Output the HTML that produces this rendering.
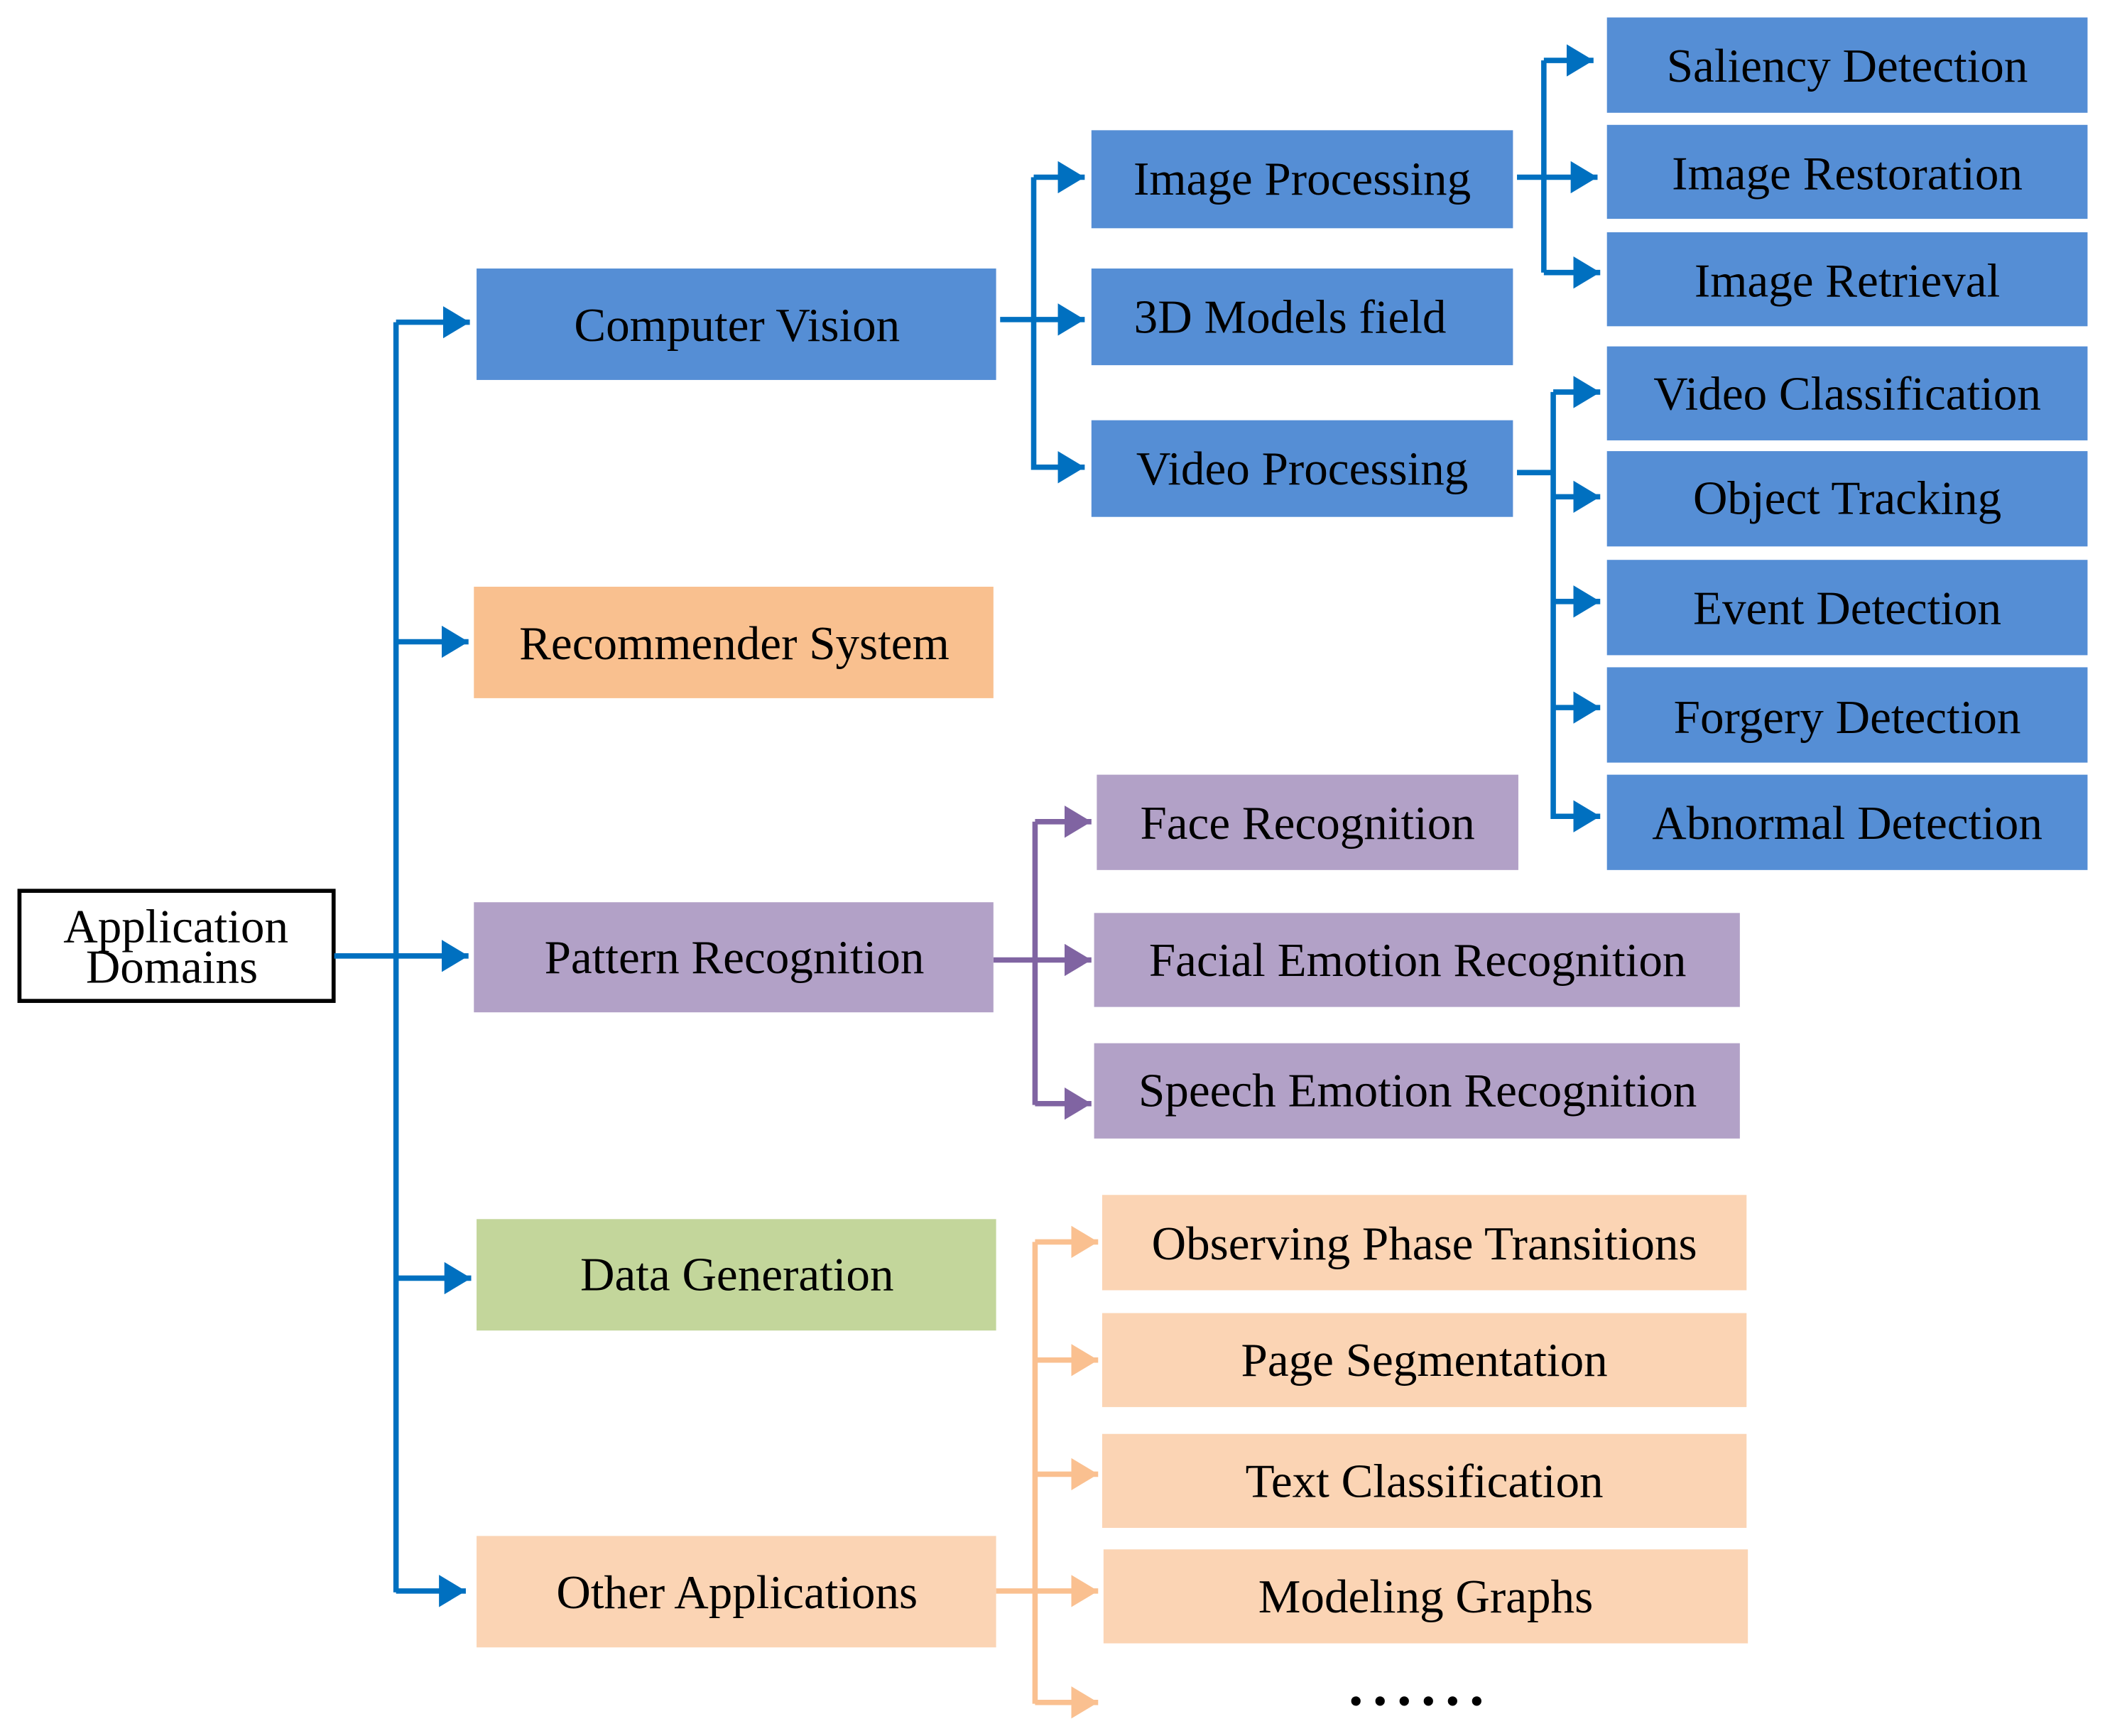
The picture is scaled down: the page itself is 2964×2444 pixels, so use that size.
<!DOCTYPE html>
<html><head><meta charset="utf-8"><style>
html,body{margin:0;padding:0;background:#fff;}
svg{display:block;}
text{font-family:"Liberation Serif",serif;font-size:35.5px;fill:#000;text-anchor:middle;dominant-baseline:central;}
</style></head><body>
<svg width="2964" height="2444" viewBox="0 0 1568 1293" preserveAspectRatio="none" xmlns="http://www.w3.org/2000/svg">
<defs>
<marker id="ab" markerUnits="userSpaceOnUse" markerWidth="20" markerHeight="24" refX="20" refY="12" orient="auto"><path d="M0,0 L20,12 L0,24 Z" fill="#0070c0"/></marker>
<marker id="ap" markerUnits="userSpaceOnUse" markerWidth="20" markerHeight="24" refX="20" refY="12" orient="auto"><path d="M0,0 L20,12 L0,24 Z" fill="#8064a2"/></marker>
<marker id="ao" markerUnits="userSpaceOnUse" markerWidth="20" markerHeight="24" refX="20" refY="12" orient="auto"><path d="M0,0 L20,12 L0,24 Z" fill="#fac090"/></marker>
</defs>
<rect x="14.5" y="663.5" width="234" height="82" fill="#fff" stroke="#000" stroke-width="3"/>
<text x="131" y="690">Application</text>
<text x="128" y="720">Domains</text>

<g stroke="#0070c0" stroke-width="4" fill="none">
<path d="M249,712 H295"/>
<path d="M295,240 V1186"/>
<path d="M295,240 H350" marker-end="url(#ab)"/>
<path d="M295,478 H349" marker-end="url(#ab)"/>
<path d="M295,712 H349" marker-end="url(#ab)"/>
<path d="M295,952 H351" marker-end="url(#ab)"/>
<path d="M295,1185 H347" marker-end="url(#ab)"/>
<path d="M745,238 H770"/>
<path d="M770,132 V350"/>
<path d="M770,132 H808" marker-end="url(#ab)"/>
<path d="M770,238 H808" marker-end="url(#ab)"/>
<path d="M770,348 H808" marker-end="url(#ab)"/>
<path d="M1130,132 H1150"/>
<path d="M1150,45 V203"/>
<path d="M1150,45 H1187" marker-end="url(#ab)"/>
<path d="M1150,132 H1190" marker-end="url(#ab)"/>
<path d="M1150,203 H1192" marker-end="url(#ab)"/>
<path d="M1130,352 H1157"/>
<path d="M1157,292 V610"/>
<path d="M1157,292 H1192" marker-end="url(#ab)"/>
<path d="M1157,370 H1192" marker-end="url(#ab)"/>
<path d="M1157,448 H1192" marker-end="url(#ab)"/>
<path d="M1157,527 H1192" marker-end="url(#ab)"/>
<path d="M1157,608 H1192" marker-end="url(#ab)"/>
</g>
<g stroke="#8064a2" stroke-width="4" fill="none">
<path d="M740,715 H771"/>
<path d="M771,612 V823"/>
<path d="M771,612 H813" marker-end="url(#ap)"/>
<path d="M771,715 H813" marker-end="url(#ap)"/>
<path d="M771,822 H813" marker-end="url(#ap)"/>
</g>
<g stroke="#fac090" stroke-width="4" fill="none">
<path d="M742,1185 H771"/>
<path d="M771,925 V1269"/>
<path d="M771,925 H818" marker-end="url(#ao)"/>
<path d="M771,1013 H818" marker-end="url(#ao)"/>
<path d="M771,1098 H818" marker-end="url(#ao)"/>
<path d="M771,1185 H818" marker-end="url(#ao)"/>
<path d="M771,1268 H818" marker-end="url(#ao)"/>
</g>

<rect x="355" y="200" width="387" height="83" fill="#558ed5"/><text x="549" y="242">Computer Vision</text>
<rect x="353" y="437" width="387" height="83" fill="#f9c08f"/><text x="547" y="479">Recommender System</text>
<rect x="353" y="672" width="387" height="82" fill="#b2a1c7"/><text x="547" y="713">Pattern Recognition</text>
<rect x="355" y="908" width="387" height="83" fill="#c3d69b"/><text x="549" y="949">Data Generation</text>
<rect x="355" y="1144" width="387" height="83" fill="#fbd4b4"/><text x="549" y="1186">Other Applications</text>

<rect x="813" y="97" width="314" height="73" fill="#558ed5"/><text x="970" y="133">Image Processing</text>
<rect x="813" y="200" width="314" height="72" fill="#558ed5"/><text x="961" y="236">3D Models field</text>
<rect x="813" y="313" width="314" height="72" fill="#558ed5"/><text x="970" y="349">Video Processing</text>

<rect x="1197" y="13" width="358" height="71" fill="#558ed5"/><text x="1376" y="49">Saliency Detection</text>
<rect x="1197" y="93" width="358" height="70" fill="#558ed5"/><text x="1376" y="129">Image Restoration</text>
<rect x="1197" y="173" width="358" height="70" fill="#558ed5"/><text x="1376" y="209">Image Retrieval</text>
<rect x="1197" y="258" width="358" height="70" fill="#558ed5"/><text x="1376" y="293">Video Classification</text>
<rect x="1197" y="336" width="358" height="71" fill="#558ed5"/><text x="1376" y="371">Object Tracking</text>
<rect x="1197" y="417" width="358" height="71" fill="#558ed5"/><text x="1376" y="453">Event Detection</text>
<rect x="1197" y="497" width="358" height="71" fill="#558ed5"/><text x="1376" y="534">Forgery Detection</text>
<rect x="1197" y="577" width="358" height="71" fill="#558ed5"/><text x="1376" y="613">Abnormal Detection</text>

<rect x="817" y="577" width="314" height="71" fill="#b2a1c7"/><text x="974" y="613">Face Recognition</text>
<rect x="815" y="680" width="481" height="70" fill="#b2a1c7"/><text x="1056" y="715">Facial Emotion Recognition</text>
<rect x="815" y="777" width="481" height="71" fill="#b2a1c7"/><text x="1056" y="812">Speech Emotion Recognition</text>

<rect x="821" y="890" width="480" height="71" fill="#fbd4b4"/><text x="1061" y="926">Observing Phase Transitions</text>
<rect x="821" y="978" width="480" height="70" fill="#fbd4b4"/><text x="1061" y="1013">Page Segmentation</text>
<rect x="821" y="1068" width="480" height="70" fill="#fbd4b4"/><text x="1061" y="1103">Text Classification</text>
<rect x="822" y="1154" width="480" height="70" fill="#fbd4b4"/><text x="1062" y="1189">Modeling Graphs</text>
<g fill="#000"><circle cx="1010" cy="1267" r="3.5"/><circle cx="1028" cy="1267" r="3.5"/><circle cx="1046" cy="1267" r="3.5"/><circle cx="1064" cy="1267" r="3.5"/><circle cx="1082" cy="1267" r="3.5"/><circle cx="1100" cy="1267" r="3.5"/></g>
</svg>
</body></html>
